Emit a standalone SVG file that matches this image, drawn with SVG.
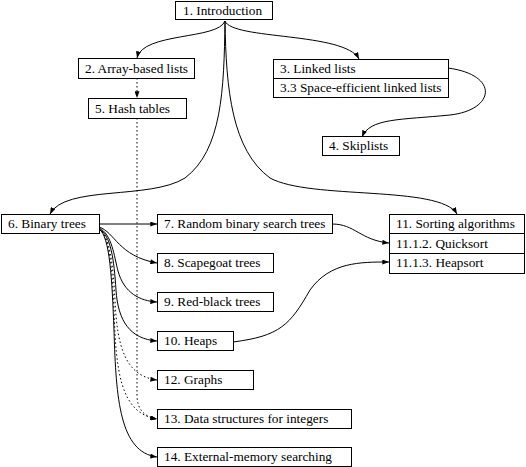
<svg xmlns="http://www.w3.org/2000/svg" width="526" height="467" viewBox="0 0 526 467">
<defs>
<style>
.box{fill:#fff;stroke:#000;stroke-width:1}
.e{fill:none;stroke:#000;stroke-width:1}
.d{stroke-dasharray:1.5,2.5}
</style>
<marker id="ah" viewBox="0 0 8 6" refX="8" refY="3" markerWidth="7" markerHeight="5" orient="auto" markerUnits="userSpaceOnUse">
<path d="M0,0 L8,3 L0,6 z" fill="#000" stroke="none"/>
</marker>
</defs>
<rect width="526" height="467" fill="#fff"/>
<g id="edges">
<path class="e" marker-end="url(#ah)" d="M225,21 C218,40 143,32 137,58"/>
<path class="e" marker-end="url(#ah)" d="M225,21 C232,40 345,32 359,59"/>
<path class="e" marker-end="url(#ah)" d="M225,21 C224,90 222,150 185,178 C150,200 65,185 50,214"/>
<path class="e" marker-end="url(#ah)" d="M225,21 C226,90 232,150 270,178 C310,200 440,185 457,214"/>
<path class="e d" marker-end="url(#ah)" d="M137,78 L137,98"/>
<path class="e d" marker-end="url(#ah)" d="M137,118 L137,395 C137,410 145,417 157,419"/>
<path class="e" marker-end="url(#ah)" d="M448,68 C500,75 495,110 450,115 C400,120 370,118 362,137"/>
<path class="e" marker-end="url(#ah)" d="M99,224 L157,224"/>
<path class="e" marker-end="url(#ah)" d="M99,227 C115,232 118,256 157,263"/>
<path class="e" marker-end="url(#ah)" d="M99,228 C112,234 114,256 118,271 C124,293 140,301 157,302"/>
<path class="e" marker-end="url(#ah)" d="M99,229 C111,235 114,260 116,290 C118,321 130,339 157,341"/>
<path class="e d" marker-end="url(#ah)" d="M99,229 C110,236 113,265 115,300 C117,346 125,376 157,380"/>
<path class="e d" marker-end="url(#ah)" d="M99,229 C110,236 112,270 114,310 C116,371 120,413 157,419"/>
<path class="e" marker-end="url(#ah)" d="M99,229 C110,236 112,280 114,330 C116,400 120,452 157,457"/>
<path class="e" marker-end="url(#ah)" d="M332,224 C355,224 360,240 389,243"/>
<path class="e" marker-end="url(#ah)" d="M233,342 C280,336 290,325 310,290 C330,262 360,262 389,262"/>
</g>
<g font-family="'Liberation Serif', 'DejaVu Serif', serif" font-size="13.3" fill="#000">
<g id="n1"><rect class="box" x="175.5" y="1.5" width="97" height="18"/><text x="183" y="15">1. Introduction</text></g>
<g id="n2"><rect class="box" x="78.5" y="58.5" width="116" height="20"/><text x="85" y="73">2. Array-based lists</text></g>
<g id="n5"><rect class="box" x="88.5" y="98.5" width="98" height="20"/><text x="95" y="113">5. Hash tables</text></g>
<g id="n3"><rect class="box" x="273.5" y="59.5" width="175" height="38"/><line class="e" x1="273.5" y1="78.5" x2="448.5" y2="78.5"/><text x="280" y="73">3. Linked lists</text><text x="280" y="92">3.3 Space-efficient linked lists</text></g>
<g id="n4"><rect class="box" x="322.5" y="136.5" width="77" height="19"/><text x="329" y="150">4. Skiplists</text></g>
<g id="n6"><rect class="box" x="1.5" y="214.5" width="98" height="19"/><text x="8" y="228">6. Binary trees</text></g>
<g id="n7"><rect class="box" x="157.5" y="214.5" width="175" height="19"/><text x="164" y="228">7. Random binary search trees</text></g>
<g id="n8"><rect class="box" x="157.5" y="253.5" width="116" height="19"/><text x="164" y="267">8. Scapegoat trees</text></g>
<g id="n9"><rect class="box" x="157.5" y="292.5" width="116" height="19"/><text x="164" y="306">9. Red-black trees</text></g>
<g id="n10"><rect class="box" x="157.5" y="331.5" width="76" height="19"/><text x="164" y="345">10. Heaps</text></g>
<g id="n12"><rect class="box" x="157.5" y="370.5" width="96" height="19"/><text x="164" y="384">12. Graphs</text></g>
<g id="n13"><rect class="box" x="157.5" y="409.5" width="194" height="19"/><text x="164" y="423">13. Data structures for integers</text></g>
<g id="n14"><rect class="box" x="157.5" y="447.5" width="194" height="19"/><text x="164" y="461">14. External-memory searching</text></g>
<g id="n11"><rect class="box" x="389.5" y="214.5" width="135" height="59"/><line class="e" x1="389.5" y1="233.5" x2="524.5" y2="233.5"/><line class="e" x1="389.5" y1="253.5" x2="524.5" y2="253.5"/><text x="396" y="228">11. Sorting algorithms</text><text x="396" y="248">11.1.2. Quicksort</text><text x="396" y="267">11.1.3. Heapsort</text></g>
</g>
</svg>
